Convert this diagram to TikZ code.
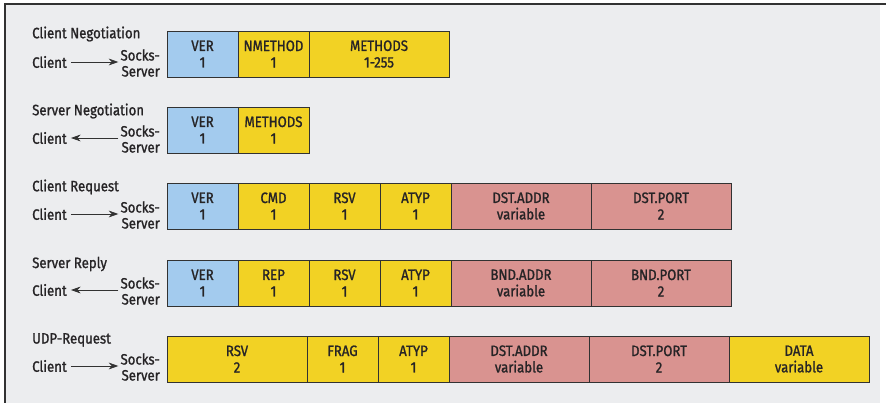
\documentclass[tikz,border=0pt]{standalone}
\usepackage{fontspec}
\setsansfont{Fira Sans}[FakeStretch=0.88,FakeBold=1.2]
\usepackage{xcolor}
\usepackage{tikz}
\usetikzlibrary{arrows.meta,positioning}
\definecolor{skedge}{RGB}{50,50,50}
\definecolor{skink}{RGB}{38,36,38}
\definecolor{skback}{RGB}{236,237,239}
\definecolor{skver}{RGB}{163,203,238}
\definecolor{skfld}{RGB}{242,210,36}
\definecolor{skadr}{RGB}{217,147,144}
\tikzset{
  fld/.style={
    draw=skedge, line width=0.8pt, align=center, inner sep=0pt, outer sep=0pt,
    minimum height=46, minimum width=71, text=skink,
    font=\sffamily\fontsize{15}{16.5}\selectfont
  },
  ver/.style={fld, fill=skver},
  dat/.style={fld, fill=skfld},
  adr/.style={fld, fill=skadr},
  wide/.style={minimum width=140},
  ttl/.style={anchor=west, inner sep=0pt, text=skink,
    font=\sffamily\fontsize{15}{16.5}\selectfont},
  lbl/.style={ttl, inner sep=4pt},
  sock/.style={anchor=east, align=right, inner sep=2pt, text=skink,
    font=\sffamily\fontsize{15}{16}\selectfont},
  arr/.style={-{Stealth[length=3.4mm,width=2.4mm]}, draw=skedge, line width=0.8pt}
}
\begin{document}
\begin{tikzpicture}[x=1pt,y=-1pt]
  \useasboundingbox (0,0) rectangle (886,403);
  \fill[white] (0,0) rectangle (886,403);
  \fill[skback] (5,4) rectangle (880,403);
  \draw[skedge, line width=1.6pt] (5,403) -- (5,4) -- (886,4);

  % client negotiation
  \node[ttl] (cnTtl) at (32,34) {Client Negotiation};
  \node[lbl] (cnCl) at (28,62) {Client};
  \node[sock] (cnSrv) at (162,63) {Socks-\\Server};
  \draw[arr] (cnCl.east) -- (cnCl.east -| cnSrv.west);
  \node[ver, anchor=north west] (cnVer) at (167,31) {VER\\1};
  \node[dat, right=0pt of cnVer] (cnNm) {NMETHOD\\1};
  \node[dat, wide, right=0pt of cnNm] (cnMt) {METHODS\\1-255};

  % server negotiation
  \node[ttl] (snTtl) at (32,111) {Server Negotiation};
  \node[lbl] (snCl) at (28,138) {Client};
  \node[sock] (snSrv) at (162,139) {Socks-\\Server};
  \draw[arr] (snCl.east -| snSrv.west) -- (snCl.east);
  \node[ver, anchor=north west] (snVer) at (167,107) {VER\\1};
  \node[dat, right=0pt of snVer] (snMt) {METHODS\\1};

  % client request
  \node[ttl] (crTtl) at (32,187) {Client Request};
  \node[lbl] (crCl) at (28,214) {Client};
  \node[sock] (crSrv) at (162,215) {Socks-\\Server};
  \draw[arr] (crCl.east) -- (crCl.east -| crSrv.west);
  \node[ver, anchor=north west] (crVer) at (167,183) {VER\\1};
  \node[dat, right=0pt of crVer] (crCmd) {CMD\\1};
  \node[dat, right=0pt of crCmd] (crRsv) {RSV\\1};
  \node[dat, right=0pt of crRsv] (crAtyp) {ATYP\\1};
  \node[adr, wide, right=0pt of crAtyp] (crAdr) {DST.ADDR\\variable};
  \node[adr, wide, right=0pt of crAdr] (crPort) {DST.PORT\\2};

  % server reply
  \node[ttl] (srTtl) at (32,264) {Server Reply};
  \node[lbl] (srCl) at (28,290) {Client};
  \node[sock] (srSrv) at (162,291) {Socks-\\Server};
  \draw[arr] (srCl.east -| srSrv.west) -- (srCl.east);
  \node[ver, anchor=north west] (srVer) at (167,260) {VER\\1};
  \node[dat, right=0pt of srVer] (srRep) {REP\\1};
  \node[dat, right=0pt of srRep] (srRsv) {RSV\\1};
  \node[dat, right=0pt of srRsv] (srAtyp) {ATYP\\1};
  \node[adr, wide, right=0pt of srAtyp] (srAdr) {BND.ADDR\\variable};
  \node[adr, wide, right=0pt of srAdr] (srPort) {BND.PORT\\2};

  % udp request
  \node[ttl] (udTtl) at (32,340) {UDP-Request};
  \node[lbl] (udCl) at (28,366) {Client};
  \node[sock] (udSrv) at (162,367) {Socks-\\Server};
  \draw[arr] (udCl.east) -- (udCl.east -| udSrv.west);
  \node[dat, wide, anchor=north west] (udRsv) at (167,336) {RSV\\2};
  \node[dat, right=0pt of udRsv] (udFrag) {FRAG\\1};
  \node[dat, right=0pt of udFrag] (udAtyp) {ATYP\\1};
  \node[adr, wide, right=0pt of udAtyp] (udAdr) {DST.ADDR\\variable};
  \node[adr, wide, right=0pt of udAdr] (udPort) {DST.PORT\\2};
  \node[dat, wide, right=0pt of udPort] (udData) {DATA\\variable};
\end{tikzpicture}
\end{document}
